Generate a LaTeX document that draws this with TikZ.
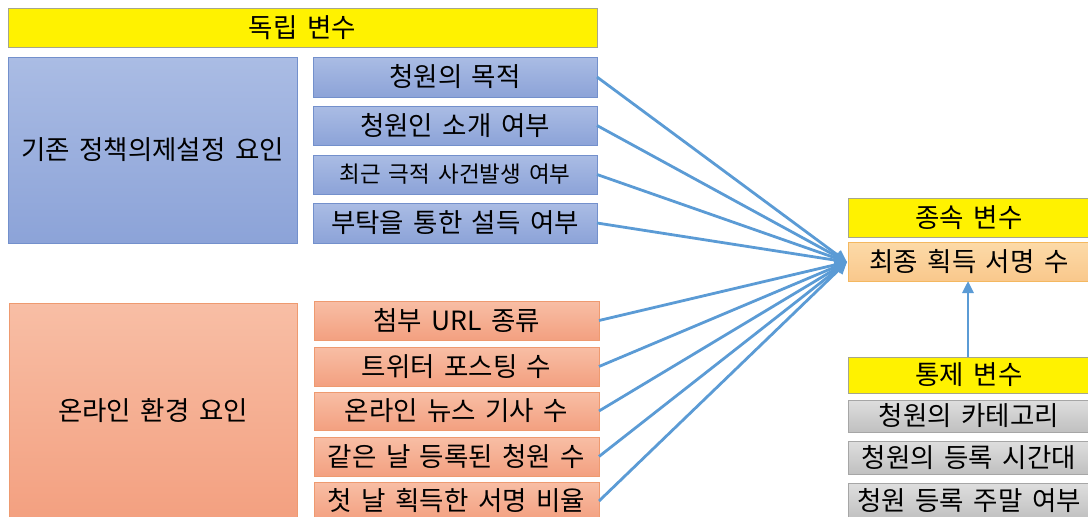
\documentclass[tikz,border=0pt]{standalone}
\usepackage{fontspec}
\setmainfont[WordSpace=1.6]{Noto Sans CJK KR}
\usetikzlibrary{arrows.meta}
\definecolor{lineblue}{HTML}{5B9BD5}
\definecolor{ybord}{HTML}{A6A68C}
\definecolor{bbord}{HTML}{7390CC}
\definecolor{obord}{HTML}{EE9A70}
\definecolor{gbord}{HTML}{A6A6A6}
\definecolor{fbord}{HTML}{F4B860}
\begin{document}
\begin{tikzpicture}[x=1pt,y=-1pt,
  box/.style={anchor=north west,inner sep=0pt,outer sep=0pt,line width=0.8pt,font=\fontsize{26.5}{30}\selectfont,text=black},
  ybox/.style={box,fill=yellow,draw=ybord},
  bbox/.style={box,draw=bbord,top color={rgb,255:red,170;green,188;blue,228},bottom color={rgb,255:red,140;green,163;blue,216}},
  obox/.style={box,draw=obord,top color={rgb,255:red,248;green,190;blue,165},bottom color={rgb,255:red,243;green,160;blue,128}},
  gbox/.style={box,draw=gbord,top color={rgb,255:red,222;green,222;blue,222},bottom color={rgb,255:red,192;green,192;blue,192}},
  fbox/.style={box,draw=fbord,top color={rgb,255:red,252;green,218;blue,168},bottom color={rgb,255:red,249;green,200;blue,140}},
  conn/.style={draw=lineblue,line width=2.8pt,-{Triangle[length=12pt,width=11pt]}}]
\useasboundingbox (0,0) rectangle (1088,517);
% independent
\node[ybox,minimum width=589pt,minimum height=39pt] (iv) at (8,8) {독립 변수};
\node[bbox,minimum width=289pt,minimum height=186pt] (pol) at (8,57) {기존 정책의제설정 요인};
\node[bbox,minimum width=284pt,minimum height=40pt] (b1) at (313,57) {청원의 목적};
\node[bbox,minimum width=284pt,minimum height=39pt] (b2) at (313,106) {청원인 소개 여부};
\node[bbox,minimum width=284pt,minimum height=39pt,font=\fontsize{22.5}{26}\selectfont] (b3) at (313,155) {최근 극적 사건발생 여부};
\node[bbox,minimum width=284pt,minimum height=40pt] (b4) at (313,203) {부탁을 통한 설득 여부};
\node[obox,minimum width=288pt,minimum height=216pt] (onl) at (9,303) {온라인 환경 요인};
\node[obox,minimum width=285pt,minimum height=39pt] (o1) at (314,301) {첨부 URL 종류};
\node[obox,minimum width=285pt,minimum height=39pt] (o2) at (314,347) {트위터 포스팅 수};
\node[obox,minimum width=285pt,minimum height=38pt] (o3) at (314,392) {온라인 뉴스 기사 수};
\node[obox,minimum width=285pt,minimum height=39pt] (o4) at (314,437) {같은 날 등록된 청원 수};
\node[obox,minimum width=285pt,minimum height=38pt] (o5) at (314,482) {첫 날 획득한 서명 비율};
% dependent
\node[ybox,minimum width=242pt,minimum height=39pt] (dv) at (848,198) {종속 변수};
\node[fbox,minimum width=242pt,minimum height=39pt] (fin) at (848,242) {최종 획득 서명 수};
% control
\node[ybox,minimum width=242pt,minimum height=36pt] (cv) at (848,357) {통제 변수};
\node[gbox,minimum width=242pt,minimum height=32pt] (g1) at (848,400) {청원의 카테고리};
\node[gbox,minimum width=242pt,minimum height=33pt] (g2) at (848,441) {청원의 등록 시간대};
\node[gbox,minimum width=242pt,minimum height=36pt] (g3) at (848,483) {청원 등록 주말 여부};
% connectors
\coordinate (t) at (847,262);
\foreach \n in {b1,b2,b3,b4,o1,o2,o3,o4,o5} \draw[conn] (\n.east) -- (t);
\draw[conn] (cv.north -| 968,0) -- (fin.south -| 968,0);
\end{tikzpicture}
\end{document}
